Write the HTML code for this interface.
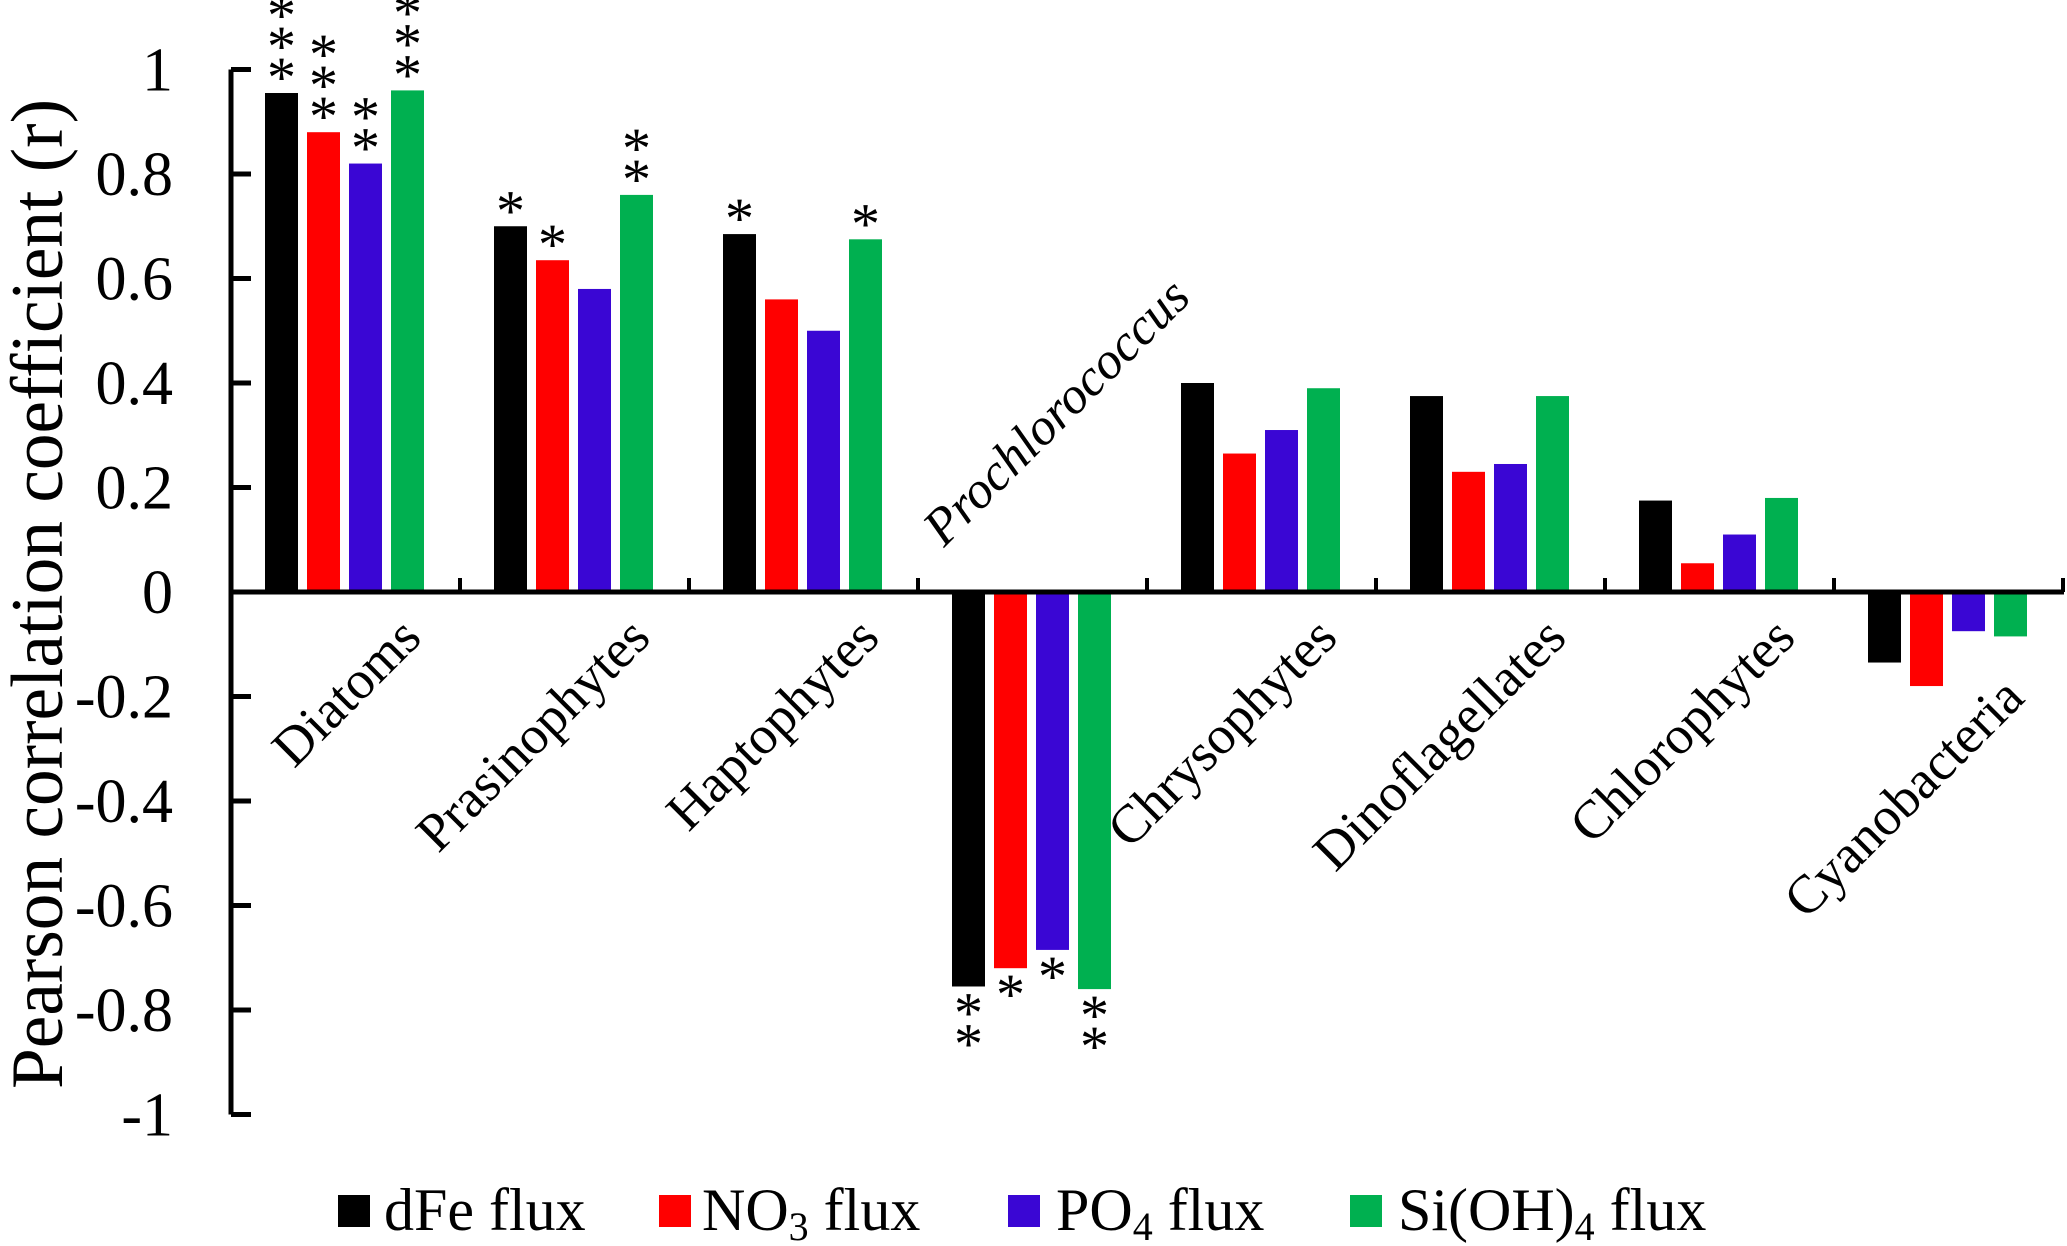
<!DOCTYPE html>
<html><head><meta charset="utf-8"><style>
html,body{margin:0;padding:0;background:#fff}
svg{display:block;font-family:"Liberation Serif","Times New Roman",serif}
text{font-family:"Liberation Serif","Times New Roman",serif}
</style></head><body>
<svg id="chart" width="2067" height="1246" viewBox="0 0 2067 1246" xmlns="http://www.w3.org/2000/svg" font-family="Liberation Serif, Times New Roman, serif">
<g id="plot"></g>
</svg>
<script>
const categories = ["Diatoms","Prasinophytes","Haptophytes","Prochlorococcus","Chrysophytes","Dinoflagellates","Chlorophytes","Cyanobacteria"];
const seriesNames = ["dFe flux","NO3 flux","PO4 flux","Si(OH)4 flux"];
const dFe = [0.955,0.70,0.685,-0.755,0.40,0.375,0.175,-0.135];
const no3 = [0.88,0.635,0.56,-0.72,0.265,0.23,0.055,-0.18];
const po4 = [0.82,0.58,0.50,-0.685,0.31,0.245,0.11,-0.075];
const si  = [0.96,0.76,0.675,-0.76,0.39,0.375,0.18,-0.085];
const starsDFe = [3,1,1,2,0,0,0,0];
const starsNO3 = [3,1,0,1,0,0,0,0];
const starsPO4 = [2,0,0,1,0,0,0,0];
const starsSi  = [3,2,1,2,0,0,0,0];
const yTicks = [1,0.8,0.6,0.4,0.2,0,-0.2,-0.4,-0.6,-0.8,-1];
const yTickLabels = ["1","0.8","0.6","0.4","0.2","0","-0.2","-0.4","-0.6","-0.8","-1"];

const NS="http://www.w3.org/2000/svg";
const g=document.getElementById('plot');
const colors=["#000000","#ff0000","#3a06d4","#00b050"];
const values=[dFe,no3,po4,si];
const stars=[starsDFe,starsNO3,starsPO4,starsSi];
const X0=231, GW=229, Y0=592, SCALE=522.5;
function y(v){return Y0 - v*SCALE;}
function gx(i){return X0 + GW*i;}
function mk(tag,attrs){const e=document.createElementNS(NS,tag);for(const k in attrs)e.setAttribute(k,attrs[k]);g.appendChild(e);return e;}

for(let s=0;s<4;s++){
  for(let i=0;i<categories.length;i++){
    const v=values[s][i];
    const bx=gx(i)+34+s*42;
    const r=mk('rect',{x:bx,y:Math.min(y(v),Y0),width:33,height:Math.abs(y(v)-Y0),fill:colors[s]});
    
    
    const n=stars[s][i];
    for(let k=0;k<n;k++){
      const base = v>=0 ? y(v)+4-k*31 : y(v)+46+k*31;
      const t=mk('text',{x:bx+16.5,y:base,'text-anchor':'middle','font-size':58});
      t.textContent='*';
      
      
    }
  }
}
const ya=mk('line',{x1:X0,y1:y(1),x2:X0,y2:y(-1),stroke:'#000','stroke-width':5});


const xa=mk('line',{x1:X0-2,y1:Y0,x2:2064,y2:Y0,stroke:'#000','stroke-width':5});


for(let i=0;i<yTicks.length;i++){
  const ty=y(yTicks[i]);
  const tk=mk('line',{x1:X0,y1:ty,x2:X0+20,y2:ty,stroke:'#000','stroke-width':5});
  
  
  const tl=mk('text',{x:173,y:ty+21,'text-anchor':'end','font-size':62});
  tl.textContent=yTickLabels[i];
  
  
}
for(let i=1;i<=8;i++){
  const tk=mk('line',{x1:gx(i),y1:Y0,x2:gx(i),y2:Y0-14,stroke:'#000','stroke-width':4});
  
  
}
for(let i=0;i<categories.length;i++){
  const c=gx(i)+GW/2;
  let t;
  if(i===3){
    t=mk('text',{x:944,y:548,'font-size':52,'font-style':'italic',transform:'rotate(-45 944 548)'});
  } else {
    const ex=c+78, ey=(i===7)?700:640;
    t=mk('text',{x:ex,y:ey,'text-anchor':'end','font-size':54,transform:`rotate(-45 ${ex} ${ey})`});
  }
  t.textContent=categories[i];
  
  
}
const yt=mk('text',{x:62,y:594,'text-anchor':'middle','font-size':74,textLength:990,lengthAdjust:'spacingAndGlyphs',transform:'rotate(-90 62 594)'});
yt.textContent='Pearson correlation coefficient (r)';


const legSq=[338,659,1008,1350];
const legTx=[384,702,1056,1398];
const legendHTML=['dFe flux','NO<tspan baseline-shift="-25%" font-size="40">3</tspan> flux','PO<tspan baseline-shift="-25%" font-size="40">4</tspan> flux','Si(OH)<tspan baseline-shift="-25%" font-size="40">4</tspan> flux'];
for(let s=0;s<4;s++){
  const r=mk('rect',{x:legSq[s],y:1195,width:32,height:32,fill:colors[s]});
  
  
  const t=mk('text',{x:legTx[s],y:1230,'font-size':60});
  t.innerHTML=legendHTML[s];
  
  
}
</script>
</body></html>
